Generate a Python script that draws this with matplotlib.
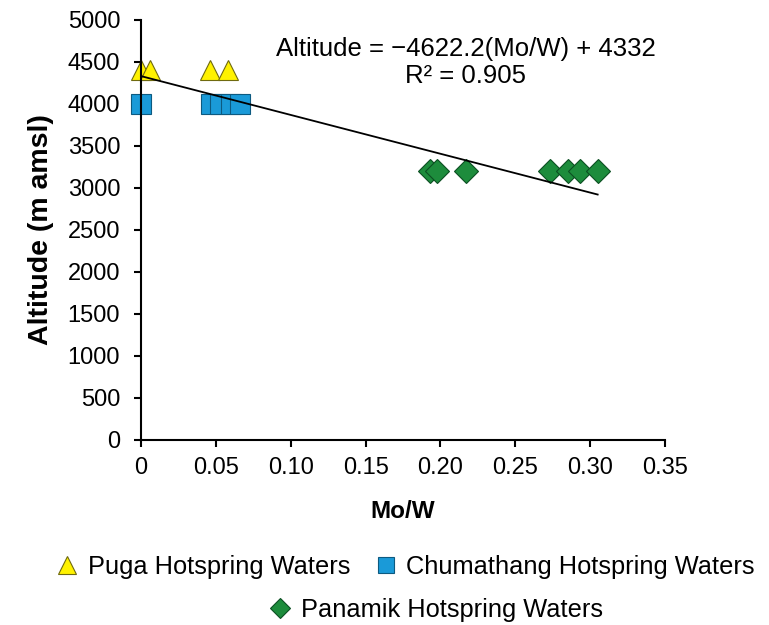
import matplotlib
matplotlib.use("Agg")
import matplotlib.pyplot as plt
from matplotlib.lines import Line2D
import numpy as np

plt.rcParams['font.family'] = ['Liberation Sans', 'DejaVu Sans']

puga_x = [0.0, 0.006, 0.046, 0.058]
puga_y = [4400, 4400, 4400, 4400]
chum_x = [0.0, 0.047, 0.053, 0.060, 0.066]
chum_y = [4000, 4000, 4000, 4000, 4000]
pan_x = [0.193, 0.198, 0.217, 0.273, 0.285, 0.293, 0.305]
pan_y = [3200, 3200, 3200, 3200, 3200, 3200, 3200]
slope = -4622.2
intercept = 4332
r2 = 0.905
xticks = [0, 0.05, 0.10, 0.15, 0.20, 0.25, 0.30, 0.35]
xticklabels = ['0', '0.05', '0.10', '0.15', '0.20', '0.25', '0.30', '0.35']
yticks = list(range(0, 5001, 500))

fig = plt.figure(figsize=(7.69, 6.25), dpi=100)
ax = fig.add_axes([0.1834, 0.296, 0.6814, 0.672])

allx = puga_x + chum_x + pan_x
xl = np.array([min(allx), max(allx)])
ax.plot(xl, slope * xl + intercept, color='black', lw=1.3, zorder=3, clip_on=False)

ax.plot(chum_x, chum_y, ls='none', marker='s', ms=15, mfc='#1a9ad8', mec='#0d5a80', mew=0.8, zorder=2, clip_on=False)
ax.plot(puga_x, puga_y, ls='none', marker='^', ms=15, mfc='#fff200', mec='#6f6a10', mew=0.8, zorder=2, clip_on=False)
ax.plot(pan_x, pan_y, ls='none', marker='D', ms=12, mfc='#1d8c3c', mec='#0c4f22', mew=0.8, zorder=2, clip_on=False)

ax.set_xlim(0, 0.35)
ax.set_ylim(0, 5000)
ax.set_xticks(xticks)
ax.set_xticklabels(xticklabels)
ax.set_yticks(yticks)
for s in ['top', 'right']:
    ax.spines[s].set_visible(False)
for s in ['left', 'bottom']:
    ax.spines[s].set_linewidth(1.5)
ax.tick_params(axis='both', labelsize=17, width=1.5, length=5, direction='out', colors='black')
ax.tick_params(axis='y', pad=10)
ax.tick_params(axis='x', pad=7)
ax.set_xlabel('Mo/W', fontsize=17.5, fontweight='bold', labelpad=15)
ax.set_ylabel('Altitude (m amsl)', fontsize=20.5, fontweight='bold', labelpad=10)

ax.text(0.62, 0.96, 'Altitude = \u22124622.2(Mo/W) + 4332\nR\u00b2 = ' + f'{r2:.3f}',
        transform=ax.transAxes, ha='center', va='top', fontsize=18.5, linespacing=1.15)

h1 = Line2D([], [], ls='none', marker='^', ms=13, mfc='#fff200', mec='#6f6a10', mew=0.8)
h2 = Line2D([], [], ls='none', marker='s', ms=12, mfc='#1a9ad8', mec='#0d5a80', mew=0.8)
h3 = Line2D([], [], ls='none', marker='D', ms=10, mfc='#1d8c3c', mec='#0c4f22', mew=0.8)
fig.legend([h1, h2], ['Puga Hotspring Waters', 'Chumathang Hotspring Waters'], ncol=2,
           loc='center', bbox_to_anchor=(0.526, 0.093), frameon=False, fontsize=18.3,
           handletextpad=0.3, columnspacing=0.9, handlelength=1.0, borderaxespad=0, borderpad=0)
fig.legend([h3], ['Panamik Hotspring Waters'], loc='center', bbox_to_anchor=(0.566, 0.024),
           frameon=False, fontsize=18.3, handletextpad=0.3, handlelength=1.0, borderaxespad=0, borderpad=0)

fig.savefig('out.png', dpi=100)
